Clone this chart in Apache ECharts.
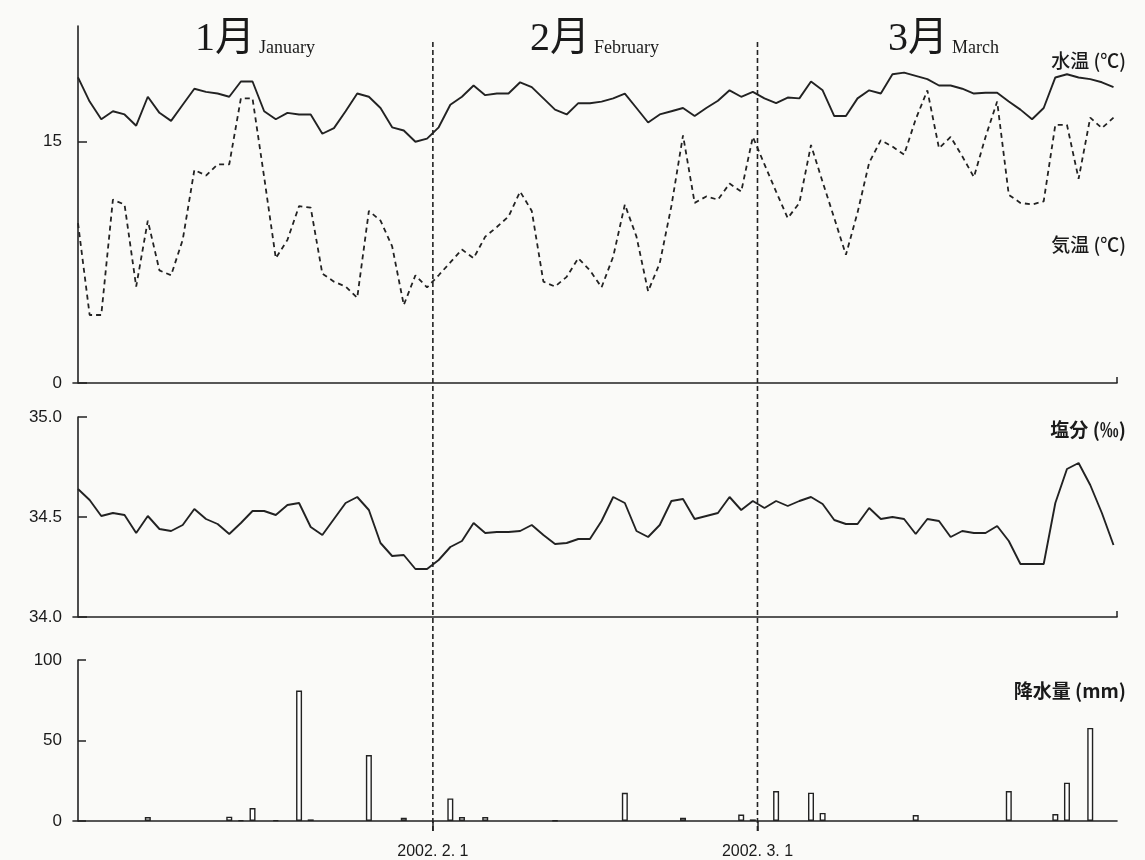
<!DOCTYPE html>
<html><head><meta charset="utf-8">
<script src="https://cdn.jsdelivr.net/npm/echarts@6/dist/echarts.min.js"></script>
<style>html,body{margin:0;padding:0;background:#fafaf8}#c{width:1145px;height:860px}</style>
</head><body><div id="c"></div>
<script>
// Daily values, 2002-01-01 .. 2002-03-31 (index 0 = Jan 1)
const waterTemp = [19.0,17.5,16.4,16.9,16.7,16.0,17.8,16.8,16.3,17.3,
  18.3,18.1,18.0,17.8,18.75,18.75,16.9,16.4,16.8,16.7,
  16.7,15.5,15.85,16.9,18.0,17.8,17.1,15.9,15.7,15.0,
  15.2,15.9,17.3,17.8,18.5,17.9,18.0,18.0,18.7,18.4,
  17.7,17.0,16.7,17.4,17.4,17.5,17.7,18.0,17.1,16.2,
  16.7,16.9,17.1,16.6,17.1,17.55,18.2,17.8,18.1,17.7,
  17.4,17.75,17.7,18.75,18.2,16.6,16.6,17.7,18.2,18.0,
  19.2,19.3,19.1,18.9,18.5,18.5,18.3,18.0,18.05,18.05,
  17.5,17.0,16.4,17.1,19.0,19.2,19.0,18.9,18.7,18.4];
const airTemp = [9.94,4.23,4.23,11.4,11.1,6.0,10.1,7.0,6.7,8.9,
  13.25,12.9,13.6,13.6,17.7,17.7,12.8,7.76,8.9,11.0,
  10.9,6.8,6.3,6.0,5.3,10.7,10.1,8.5,4.85,6.7,
  5.95,6.7,7.5,8.3,7.76,9.1,9.7,10.35,11.9,10.7,
  6.3,6.0,6.6,7.76,7.0,5.95,7.86,11.1,9.1,5.7,
  7.45,11.0,15.4,11.2,11.6,11.4,12.4,11.9,15.3,13.6,
  11.9,10.25,11.2,14.8,12.5,10.25,7.97,10.6,13.7,15.1,
  14.7,14.2,16.4,18.2,14.6,15.3,14.1,12.8,15.3,17.5,
  11.7,11.2,11.1,11.3,16.05,16.05,12.7,16.5,15.85,16.5];
const salinity = [34.64,34.585,34.505,34.52,34.51,34.42,34.505,34.44,34.43,34.46,
  34.54,34.49,34.465,34.415,34.47,34.53,34.53,34.51,34.56,34.57,
  34.45,34.41,34.49,34.57,34.60,34.535,34.37,34.305,34.31,34.24,
  34.24,34.285,34.35,34.38,34.47,34.42,34.425,34.425,34.43,34.46,
  34.41,34.365,34.37,34.39,34.39,34.48,34.60,34.57,34.43,34.40,
  34.46,34.58,34.59,34.49,34.505,34.52,34.60,34.535,34.58,34.545,
  34.58,34.555,34.58,34.60,34.565,34.485,34.465,34.465,34.545,34.49,
  34.50,34.49,34.415,34.49,34.48,34.40,34.43,34.42,34.42,34.455,
  34.38,34.265,34.265,34.265,34.57,34.74,34.77,34.66,34.52,34.36];
const precipDays = [6,13,14,15,17,19,20,25,28,32,33,35,41,47,52,57,58,60,63,64,72,80,84,85,87];
const precipMm   = [2.5,2.7,0.5,8,0.5,81,1,41,2,14,2.5,2.5,0.3,17.5,2,4,1,18.6,17.6,5,3.7,18.6,4.3,23.8,57.8];

const monthBoundaries = [30.5, 58.4];
const monthBoundaryLabels = ['2002. 2. 1', '2002. 3. 1'];
const monthTitles = [['1月','January'],['2月','February'],['3月','March']];
const tempTickValues = [0, 15];
const seriesTitles = ['水温 (℃)', '気温 (℃)', '塩分 (‰)', '降水量 (mm)'];

const X_MIN = -0.43, X_MAX = 89.3;
const INK = '#222222';
const sans = '"Liberation Sans", Arial, "Noto Sans CJK JP", sans-serif';
const serif = '"Liberation Serif", "Times New Roman", "Noto Sans CJK JP", serif';

const chart = echarts.init(document.getElementById('c'), null, {renderer: 'canvas'});

const axisLineStyle = {show: true, lineStyle: {color: INK, width: 1.6}};
function xAxisFor(gi, bottom) {
  return {
    type: 'value', gridIndex: gi, min: X_MIN, max: X_MAX,
    axisLine: axisLineStyle,
    splitLine: {show: false},
    axisTick: bottom
      ? {show: true, customValues: monthBoundaries, length: 10, lineStyle: {color: INK, width: 1.5}}
      : {show: true, inside: true, customValues: [X_MAX], length: 6, lineStyle: {color: INK, width: 1.5}},
    axisLabel: bottom
      ? {show: true, customValues: monthBoundaries, margin: 23, fontSize: 16, color: '#1a1a1a', fontFamily: sans,
         formatter: v => { const i = monthBoundaries.findIndex(b => Math.abs(b - v) < 1e-6); return i >= 0 ? monthBoundaryLabels[i] : ''; }}
      : {show: false}
  };
}
const yLabel = {fontSize: 17, color: '#1a1a1a', fontFamily: sans, margin: 11};

const titles = [];
const monthLeft = [190, 525, 883];
monthTitles.forEach((m, i) => titles.push({
  left: monthLeft[i], top: 8,
  text: '{a|' + m[0] + '}{b|' + m[1] + '}',
  textStyle: {rich: {
    a: {fontSize: 40, fontWeight: 'normal', fontFamily: serif, color: '#1a1a1a', lineHeight: 46, verticalAlign: 'bottom'},
    b: {fontSize: 18, fontWeight: 'normal', fontFamily: serif, color: '#1a1a1a', lineHeight: 46, verticalAlign: 'bottom', padding: [0, 0, 2, 4]}
  }}
}));
const seriesTitleTop = [46, 230, 415, 676];
seriesTitles.forEach((t, i) => titles.push({
  right: 14, top: seriesTitleTop[i], text: t,
  textStyle: {fontSize: 19, fontWeight: i >= 2 ? 'bold' : 500, color: '#1a1a1a', fontFamily: '"Noto Sans CJK JP", sans-serif'}
}));

const option = {
  backgroundColor: '#fafaf8',
  animation: false,
  title: titles,
  grid: [
    {left: 73, right: 28, top: 26, height: 357},
    {left: 73, right: 28, top: 417, height: 200},
    {left: 73, right: 28, top: 660, height: 161}
  ],
  xAxis: [xAxisFor(0, false), xAxisFor(1, false), xAxisFor(2, true)],
  yAxis: [
    {type: 'value', gridIndex: 0, min: 0, max: 22.2,
     axisLine: axisLineStyle, splitLine: {show: false},
     axisTick: {show: true, inside: true, customValues: tempTickValues, length: 9, lineStyle: {color: INK, width: 1.5}},
     axisLabel: Object.assign({customValues: tempTickValues}, yLabel)},
    {type: 'value', gridIndex: 1, min: 34.0, max: 35.0, interval: 0.5,
     axisLine: axisLineStyle, splitLine: {show: false},
     axisTick: {show: true, inside: true, length: 9, lineStyle: {color: INK, width: 1.5}},
     axisLabel: Object.assign({formatter: v => v.toFixed(1)}, yLabel)},
    {type: 'value', gridIndex: 2, min: 0, max: 100, interval: 50,
     axisLine: axisLineStyle, splitLine: {show: false},
     axisTick: {show: true, inside: true, length: 8, lineStyle: {color: INK, width: 1.5}},
     axisLabel: yLabel}
  ],
  series: [
    {name: '水温', type: 'line', xAxisIndex: 0, yAxisIndex: 0, symbol: 'none',
     lineStyle: {color: INK, width: 1.9}, data: waterTemp.map((v, i) => [i, v])},
    {name: '気温', type: 'line', xAxisIndex: 0, yAxisIndex: 0, symbol: 'none',
     lineStyle: {color: INK, width: 1.8, type: [5, 4]}, data: airTemp.map((v, i) => [i, v])},
    {name: '塩分', type: 'line', xAxisIndex: 1, yAxisIndex: 1, symbol: 'none',
     lineStyle: {color: INK, width: 1.9}, data: salinity.map((v, i) => [i, v])},
    {name: '降水量', type: 'bar', xAxisIndex: 2, yAxisIndex: 2, barWidth: 6,
     itemStyle: {color: '#ffffff', borderColor: INK, borderWidth: 1.4},
     data: precipDays.map((d, k) => [d, precipMm[k]])}
  ]
};
chart.setOption(option);

// month separator dashed lines, positioned through the x scale
const sepX = monthBoundaries.map(v => chart.convertToPixel({xAxisIndex: 0}, v));
chart.setOption({
  graphic: sepX.map(x => ({
    type: 'line', z: 50, silent: true,
    shape: {x1: x, y1: 42, x2: x, y2: 833},
    style: {stroke: INK, lineWidth: 1.6, lineDash: [5, 3]}
  }))
});
</script>
</body></html>
